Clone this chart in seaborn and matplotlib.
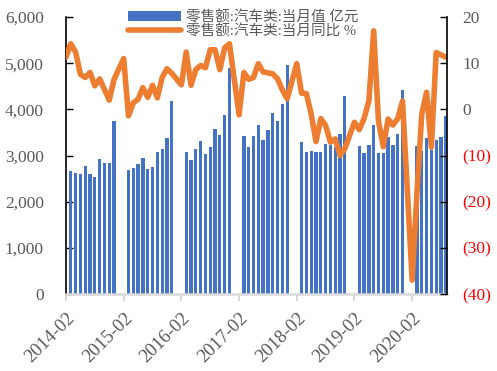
import matplotlib
matplotlib.use('Agg')
import numpy as np
import pandas as pd
import seaborn as sns
import matplotlib.pyplot as plt
import matplotlib.transforms as mtransforms
from matplotlib.ticker import FuncFormatter

sns.set_style('white')
plt.rcParams['font.family'] = ['Liberation Serif', 'Noto Sans CJK SC', 'DejaVu Sans']

# 月度数据 2014-02 ~ 2020-09 (1月无数据, 2月只有同比)
first_month = '2014-02'
last_month = '2020-09'

# 零售额:汽车类:当月值 亿元, 每年 3月-12月
sales_2014 = [2668, 2625, 2603, 2777, 2603, 2544, 2928, 2827, 2842, 3753]
sales_2015 = [2690, 2733, 2820, 2950, 2712, 2755, 3076, 3130, 3369, 4171]
sales_2016 = [3080, 2907, 3130, 3319, 3037, 3189, 3564, 3449, 3883, 4887]
sales_2017 = [3412, 3180, 3412, 3655, 3330, 3553, 3915, 3748, 4108, 4968]
sales_2018 = [3297, 3080, 3102, 3080, 3080, 3243, 3225, 3180, 3470, 4280]
sales_2019 = [3210, 3059, 3233, 3666, 3059, 3059, 3398, 3233, 3470, 4425]
sales_2020 = [3200, 3090, 3385, 3123, 3325, 3405, 3866]

# 零售额:汽车类:当月同比 %, 每年 2月-12月
yoy_2014 = [11.3, 14.2, 12.4, 7.6, 6.9, 8.0, 5.1, 6.6, 4.3, 2.0, 6.5]
yoy_2015 = [11.0, -1.4, 1.4, 2.2, 4.7, 2.6, 5.2, 2.5, 6.9, 8.8, 7.8]
yoy_2016 = [5.3, 12.4, 5.2, 8.6, 9.5, 9.0, 12.9, 12.9, 8.6, 13.3, 14.2]
yoy_2017 = [-1.2, 8.0, 6.5, 6.9, 9.9, 8.1, 7.9, 7.7, 6.6, 4.2, 2.3]
yoy_2018 = [9.9, 3.5, 3.4, -1.0, -7.0, -2.0, -3.5, -7.1, -6.4, -10.0, -8.5]
yoy_2019 = [-2.8, -4.4, -2.0, 1.8, 17.0, -2.6, -8.1, -2.1, -3.4, -2.0, 1.8]
yoy_2020 = [-37.0, -18.1, -1.0, 3.7, -8.2, 12.3, 11.8, 11.3]

sales = {2014: sales_2014, 2015: sales_2015, 2016: sales_2016, 2017: sales_2017,
         2018: sales_2018, 2019: sales_2019, 2020: sales_2020}
yoy = {2014: yoy_2014, 2015: yoy_2015, 2016: yoy_2016, 2017: yoy_2017,
       2018: yoy_2018, 2019: yoy_2019, 2020: yoy_2020}

label_bar = '零售额:汽车类:当月值 亿元'
label_line = '零售额:汽车类:当月同比 %'

months = pd.period_range(first_month, last_month, freq='M')
df = pd.DataFrame({'month': months, 'm': np.arange(len(months))})
df['sales'] = np.nan
df['yoy'] = np.nan
for y, vals in sales.items():
    for i, v in enumerate(vals):
        df.loc[df['month'] == pd.Period(f'{y}-{i + 3:02d}', 'M'), 'sales'] = v
for y, vals in yoy.items():
    for i, v in enumerate(vals):
        df.loc[df['month'] == pd.Period(f'{y}-{i + 2:02d}', 'M'), 'yoy'] = v

bars = df.dropna(subset=['sales'])
line = df.dropna(subset=['yoy'])

fig = plt.figure(figsize=(4.97, 3.71), dpi=100)
ax = fig.add_axes([66 / 497, 1 - 294 / 371, (447 - 66) / 497, (294 - 17) / 371])
ax2 = ax.twinx()

sns.barplot(data=bars, x='m', y='sales', native_scale=True, color='#4472C4',
            saturation=1, width=0.68, errorbar=None, ax=ax, label=label_bar,
            linewidth=0)
sns.lineplot(data=line, x='m', y='yoy', color='#ED7D31', linewidth=4,
             ax=ax2, label=label_line, legend=False)

gray = '#595959'
ax.set_xlim(0, 79.25)
ax.set_ylim(0, 6000)
ax.set_yticks(range(0, 6001, 1000))
ax.yaxis.set_major_formatter(FuncFormatter(lambda v, p: f'{int(v):,}'))
ax2.set_ylim(-40, 20)
r_ticks = list(range(-40, 21, 10))
ax2.set_yticks(r_ticks)
ax2.set_yticklabels([f'({-t})' if t < 0 else f'{t}' for t in r_ticks])
for lab, t in zip(ax2.get_yticklabels(), r_ticks):
    lab.set_color('red' if t < 0 else gray)

xt = list(range(0, 80, 12))
ax.set_xticks(xt)
ax.set_xticklabels([f'{2014 + i}-02' for i in range(len(xt))], rotation=45,
                   ha='right', va='top', rotation_mode='anchor')
offset = mtransforms.ScaledTranslation(4 / 100, 0, fig.dpi_scale_trans)
for lab in ax.get_xticklabels():
    lab.set_transform(lab.get_transform() + offset)

ax.set_xlabel('')
ax.set_ylabel('')
ax2.set_xlabel('')
ax2.set_ylabel('')

for s in ['top', 'right']:
    ax.spines[s].set_visible(False)
for s in ['top', 'left', 'bottom']:
    ax2.spines[s].set_visible(False)
ax.spines['left'].set_color('black')
ax.spines['left'].set_linewidth(1.2)
ax.spines['bottom'].set_color('#d9d9d9')
ax.spines['bottom'].set_linewidth(1.8)
ax2.spines['right'].set_color('black')
ax2.spines['right'].set_linewidth(1.2)

ax.tick_params(axis='y', direction='in', length=5, width=1, color='black',
               labelsize=12.5, labelcolor=gray, pad=16, left=True)
ax.tick_params(axis='x', direction='out', length=5, width=1.5, color='#d9d9d9',
               labelsize=13.5, labelcolor=gray, pad=6, bottom=True)
ax2.tick_params(axis='y', direction='in', length=5, width=1, color='black',
                labelsize=12.5, pad=11, right=True)

h1, l1 = ax.get_legend_handles_labels()
h2, l2 = ax2.get_legend_handles_labels()
ax.legend(h1 + h2, l1 + l2, loc='upper left', bbox_to_anchor=(128 / 497, 1 - 10 / 371),
          bbox_transform=fig.transFigure, frameon=False,
          labelcolor=gray, handlelength=3.6, handletextpad=0.35,
          labelspacing=-0.02, borderpad=0, borderaxespad=0,
          prop={'family': ['Liberation Serif', 'Noto Sans CJK SC'], 'size': 10.5})

fig.savefig('out.png', dpi=100)
